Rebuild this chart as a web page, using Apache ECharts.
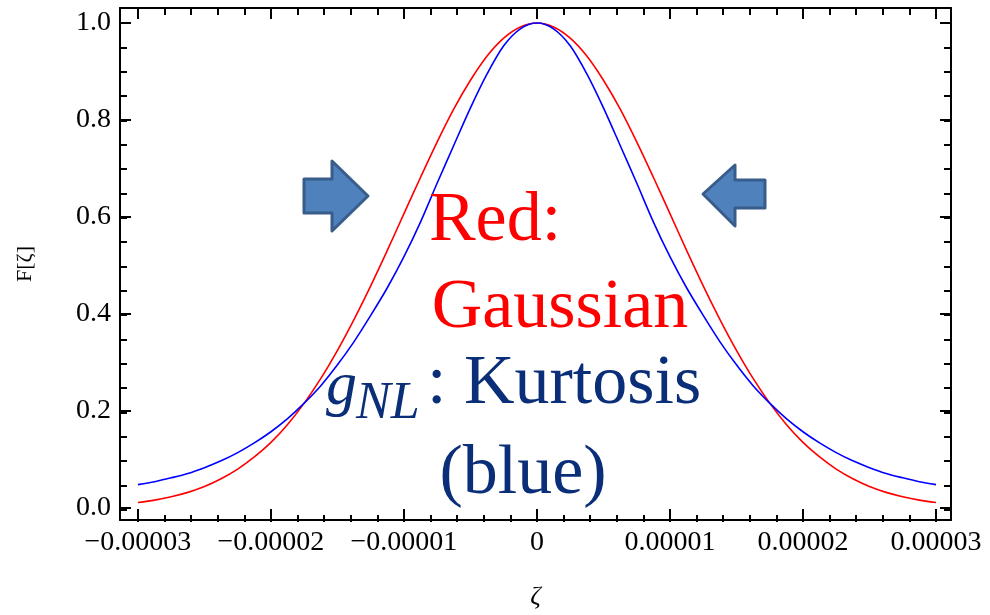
<!DOCTYPE html>
<html>
<head>
<meta charset="utf-8">
<script src="https://cdn.jsdelivr.net/npm/echarts@6/dist/echarts.min.js"></script>
<style>html,body{margin:0;padding:0;background:#fff}#c{width:990px;height:615px}</style>
</head>
<body>
<div id="c"></div>
<script>
// ---- data (zeta values, in units of 1e-5, and F[zeta]) ----
const zetaUnits = [-3.0,-2.875,-2.75,-2.625,-2.5,-2.375,-2.25,-2.125,-2.0,-1.875,-1.75,-1.625,-1.5,-1.375,-1.25,-1.125,-1.0,-0.875,-0.75,-0.625,-0.5,-0.375,-0.25,-0.125,0,
                   0.125,0.25,0.375,0.5,0.625,0.75,0.875,1.0,1.125,1.25,1.375,1.5,1.625,1.75,1.875,2.0,2.125,2.25,2.375,2.5,2.625,2.75,2.875,3.0];
const gaussian = [0.011,0.016,0.023,0.032,0.044,0.060,0.080,0.105,0.135,0.172,0.216,0.267,0.325,0.389,0.458,0.531,0.607,0.682,0.755,0.823,0.882,0.932,0.969,0.992,1.0,
                  0.992,0.969,0.932,0.882,0.823,0.755,0.682,0.607,0.531,0.458,0.389,0.325,0.267,0.216,0.172,0.135,0.105,0.080,0.060,0.044,0.032,0.023,0.016,0.011];
const kurtosis = [0.048,0.054,0.062,0.071,0.083,0.097,0.114,0.134,0.157,0.184,0.216,0.252,0.295,0.343,0.397,0.454,0.518,0.590,0.670,0.748,0.825,0.895,0.953,0.988,1.0,
                  0.988,0.953,0.895,0.825,0.748,0.670,0.590,0.518,0.454,0.397,0.343,0.295,0.252,0.216,0.184,0.157,0.134,0.114,0.097,0.083,0.071,0.062,0.054,0.048];
const xTicks = [-3e-5,-2e-5,-1e-5,0,1e-5,2e-5,3e-5];
const xMinorTicks = [-3e-5,-2.8e-5,-2.6e-5,-2.4e-5,-2.2e-5,-2e-5,-1.8e-5,-1.6e-5,-1.4e-5,-1.2e-5,-1e-5,-0.8e-5,-0.6e-5,-0.4e-5,-0.2e-5,0,
                     0.2e-5,0.4e-5,0.6e-5,0.8e-5,1e-5,1.2e-5,1.4e-5,1.6e-5,1.8e-5,2e-5,2.2e-5,2.4e-5,2.6e-5,2.8e-5,3e-5];
const yTicks = [0,0.2,0.4,0.6,0.8,1.0];
const yMinorTicks = [0,0.05,0.1,0.15,0.2,0.25,0.3,0.35,0.4,0.45,0.5,0.55,0.6,0.65,0.7,0.75,0.8,0.85,0.9,0.95,1.0];

const X_MIN = -3.135e-5, X_MAX = 3.113e-5, Y_MIN = -0.025, Y_MAX = 1.031;
const FONT = '"Liberation Serif", "Times New Roman", serif';

const chart = echarts.init(document.getElementById('c'), null, {renderer: 'canvas'});

function xFmt(v) {
  if (Math.abs(v) < 1e-12) return '0';
  return (v < 0 ? '\u2212' : '') + Math.abs(v).toFixed(5);
}

function xAx(grid, pos, major, labels) {
  return {
    type: 'value', gridIndex: grid, position: pos, min: X_MIN, max: X_MAX,
    axisLine: {show: major, onZero: false, lineStyle: {color: '#000', width: 2}},
    axisTick: {show: true, inside: true, length: major ? 11 : 7,
               customValues: major ? xTicks : xMinorTicks,
               lineStyle: {color: '#000', width: 2}},
    axisLabel: {show: labels, customValues: xTicks, formatter: xFmt, color: '#000',
                fontFamily: FONT, fontSize: 28, margin: 9},
    splitLine: {show: false},
    name: labels ? 'ζ' : '', nameLocation: 'middle', nameGap: 64,
    nameTextStyle: {fontFamily: FONT, fontSize: 26, fontStyle: 'italic', color: '#000'}
  };
}
function yAx(grid, pos, major, labels) {
  return {
    type: 'value', gridIndex: grid, position: pos, min: Y_MIN, max: Y_MAX,
    axisLine: {show: major, onZero: false, lineStyle: {color: '#000', width: 2}},
    axisTick: {show: true, inside: true, length: major ? 11 : 7,
               customValues: major ? yTicks : yMinorTicks,
               lineStyle: {color: '#000', width: 2}},
    axisLabel: {show: labels, customValues: yTicks, formatter: v => v.toFixed(1), color: '#000',
                fontFamily: FONT, fontSize: 28, margin: 9},
    splitLine: {show: false},
    name: labels ? 'F[ζ]' : '', nameLocation: 'middle', nameGap: 84,
    nameTextStyle: {fontFamily: FONT, fontSize: 22, color: '#000'}
  };
}

const gridRect = {left: 120, top: 8, right: 39, bottom: 93, containLabel: false};

chart.setOption({
  animation: false,
  backgroundColor: '#fff',
  grid: [Object.assign({}, gridRect), Object.assign({}, gridRect)],
  xAxis: [xAx(0, 'bottom', true, true), xAx(0, 'top', true, false),
          xAx(1, 'bottom', false, false), xAx(1, 'top', false, false)],
  yAxis: [yAx(0, 'left', true, true), yAx(0, 'right', true, false),
          yAx(1, 'left', false, false), yAx(1, 'right', false, false)],
  series: [
    {type: 'line', xAxisIndex: 0, yAxisIndex: 0, showSymbol: false, smooth: 0.3,
     data: zetaUnits.map((z, i) => [z * 1e-5, gaussian[i]]),
     lineStyle: {color: '#ff0000', width: 1.6}, itemStyle: {color: '#ff0000'}},
    {type: 'line', xAxisIndex: 0, yAxisIndex: 0, showSymbol: false, smooth: 0.3,
     data: zetaUnits.map((z, i) => [z * 1e-5, kurtosis[i]]),
     lineStyle: {color: '#0000ff', width: 1.6}, itemStyle: {color: '#0000ff'}}
  ],
  graphic: [
    {type: 'polygon', z: 100,
     shape: {points: [[304,179],[332,179],[332,161],[368,196],[332,231],[332,213],[304,213]]},
     style: {fill: '#4f81bd', stroke: '#385d8a', lineWidth: 3, lineJoin: 'round'}},
    {type: 'polygon', z: 100,
     shape: {points: [[703,194],[735,165],[735,180],[765,180],[765,208],[735,208],[735,226]]},
     style: {fill: '#4f81bd', stroke: '#385d8a', lineWidth: 3, lineJoin: 'round'}},
    {type: 'text', z: 100, x: 495, y: 222,
     style: {text: 'Red:', fill: '#ff0000', font: '70px ' + FONT, textAlign: 'center', textVerticalAlign: 'middle'}},
    {type: 'text', z: 100, x: 560, y: 309,
     style: {text: 'Gaussian', fill: '#ff0000', font: '70px ' + FONT, textAlign: 'center', textVerticalAlign: 'middle'}},
    {type: 'text', z: 100, x: 326, y: 388,
     style: {text: 'g', fill: '#0b2e79', font: 'italic 62px ' + FONT, textAlign: 'left', textVerticalAlign: 'middle'}},
    {type: 'text', z: 100, x: 356, y: 404,
     style: {text: 'NL', fill: '#0b2e79', font: 'italic 52px ' + FONT, textAlign: 'left', textVerticalAlign: 'middle'}},
    {type: 'text', z: 100, x: 427, y: 385,
     style: {text: ': Kurtosis', fill: '#0b2e79', font: '70px ' + FONT, textAlign: 'left', textVerticalAlign: 'middle'}},
    {type: 'text', z: 100, x: 523, y: 475,
     style: {text: '(blue)', fill: '#0b2e79', font: '70px ' + FONT, textAlign: 'center', textVerticalAlign: 'middle'}}
  ]
});
</script>
</body>
</html>
